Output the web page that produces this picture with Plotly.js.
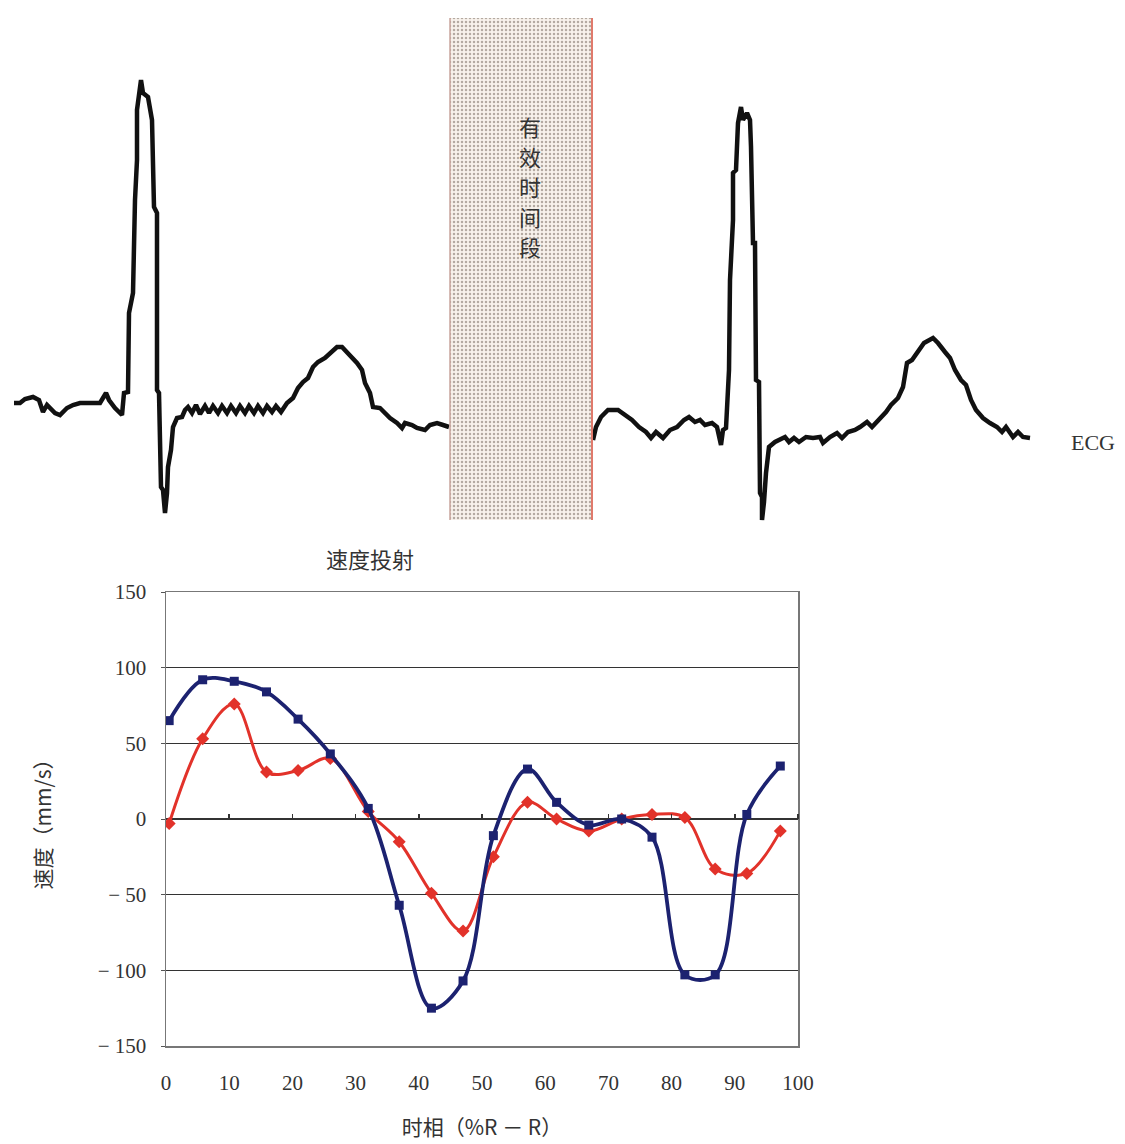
<!DOCTYPE html>
<html>
<head>
<meta charset="utf-8">
<script src="https://cdn.plot.ly/plotly-3.0.1.min.js"></script>
<style>html,body{margin:0;padding:0;background:#fff;}#chart{width:1125px;height:1144px;}</style>
</head>
<body>
<div id="chart"></div>
<script>
// ---------- ECG trace (time in px units, amplitude relative to baseline) ----------
const ecgLeftX = [14,20,25,33,39,43,47,50,55,60,67,73,80,93,100,106,109,115,122,124,128,129,133,135,137,137,141,143,148,152,153,154,157,157,159,161,163,165,167,168,171,173,177,182,185,188,
  192,196,200,205,209,213,218,222,227,231,236,240,245,249,254,258,263,267,272,276,281,
  287,293,298,303,308,313,318,325,330,337,342,347,352,357,362,365,370,373,380,385,390,397,402,405,412,417,425,430,437,443,449];
const ecgLeftY = [2,2,6,8,5,-7,0,-3,-8,-10,-3,0,2,2,2,12,5,-3,-10,12,13,92,112,205,245,295,325,312,308,285,238,198,192,15,12,-82,-85,-108,-88,-62,-45,-22,-13,-12,-5,-2,
  -8,0,-9,-1,-8,-1,-8,-1,-8,-1,-8,-1,-8,-1,-8,-1,-8,-1,-7,-1,-7,
  2,7,17,23,27,38,43,47,52,58,58,53,47,42,35,22,12,-2,-3,-8,-13,-18,-23,-18,-20,-23,-25,-20,-18,-20,-22];
const ecgRightX = [593,596,601,608,618,625,632,639,646,651,656,663,670,677,684,689,695,700,705,712,717,721,723,726,728,729,730,733,733,736,738,741,743,747,750,751,753,755,756,759,760,762,762,764,766,769,775,780,
  785,789,794,799,806,813,820,823,830,837,842,848,855,860,867,872,879,886,891,898,903,907,912,919,924,933,938,945,950,955,961,966,971,976,983,990,997,1002,1006,1013,1018,1023,1030];
const ecgRightY = [-35,-22,-12,-5,-5,-10,-15,-22,-27,-33,-27,-33,-25,-22,-15,-12,-17,-15,-20,-18,-22,-40,-25,-23,32,35,125,185,232,235,282,298,285,292,285,258,162,162,25,23,-88,-92,-115,-97,-68,-42,-37,-35,
  -32,-37,-33,-37,-32,-33,-32,-38,-32,-28,-33,-27,-25,-22,-17,-22,-15,-7,0,7,18,42,45,55,62,67,62,53,47,35,25,20,5,-5,-13,-18,-22,-27,-22,-32,-27,-32,-33];

// highlighted window ("有效时间段")
const bandLeft = 450, bandRight = 592, bandBottom = -115, bandTop = 387;
const bandChars = ['有','效','时','间','段'];
const bandCharY = [279, 249, 219, 189, 159];

// ---------- velocity projection chart ----------
const phase = [0.5,5.8,10.8,15.9,20.9,26,32,36.9,42,47,51.8,57.2,61.8,66.9,72.1,76.9,82.1,86.9,91.9,97.2];
const blueVel = [65,92,91,84,66,43,7,-57,-125,-107,-11,33,11,-4,0,-12,-103,-103,3,35];
const redVel  = [-3,53,76,31,32,40,5,-15,-49,-74,-25,11,0,-8,0,3,1,-33,-36,-8];
const xTicks = [0,10,20,30,40,50,60,70,80,90,100];
const yTicks = [150,100,50,0,-50,-100,-150];
const yTickText = ['150','100','50','0','− 50','− 100','− 150'];

const W = 1125, H = 1144;
const serif = 'Liberation Serif, Times New Roman, serif';
const cjk = 'Noto Sans CJK SC, sans-serif';

const traces = [
  {type:'bar', x:[(bandLeft+bandRight)/2], width:[bandRight-bandLeft], base:[bandBottom], y:[bandTop-bandBottom],
   xaxis:'x3', yaxis:'y3', hoverinfo:'skip',
   marker:{color:'#f7f0ea', line:{width:0},
     pattern:{shape:'.', fgcolor:'#b4aaa2', bgcolor:'#f8f2ec', size:4, solidity:0.3}}},
  {type:'scatter', mode:'lines', x:ecgLeftX, y:ecgLeftY, xaxis:'x3', yaxis:'y3',
   line:{color:'#111', width:4.5}, hoverinfo:'skip'},
  {type:'scatter', mode:'lines', x:ecgRightX, y:ecgRightY, xaxis:'x3', yaxis:'y3',
   line:{color:'#111', width:4.5}, hoverinfo:'skip'},
  {type:'scatter', mode:'lines+markers', x:phase, y:redVel, xaxis:'x', yaxis:'y',
   line:{color:'#e2322a', width:3, shape:'spline', smoothing:1},
   marker:{symbol:'diamond', size:10, color:'#e2322a'}, name:'red'},
  {type:'scatter', mode:'lines+markers', x:phase, y:blueVel, xaxis:'x', yaxis:'y',
   line:{color:'#1c2270', width:3.8, shape:'spline', smoothing:1},
   marker:{symbol:'square', size:9, color:'#1c2270'}, name:'blue'},
  {type:'scatter', mode:'lines', x:[], y:[], xaxis:'x2', yaxis:'y', hoverinfo:'skip'}
];

const yDom = [(H-1046)/H, (H-592)/H];
const zeroPos = yDom[0] + (yDom[1]-yDom[0])*0.5;

const annotations = bandChars.map((c,i) => ({
  xref:'x3', yref:'y3', x:(bandLeft+bandRight)/2+9, y:bandCharY[i], text:c, showarrow:false,
  font:{family:cjk, size:22, color:'#333'}, yanchor:'middle'
}));
annotations.push({xref:'x3', yref:'y3', x:1093, y:-37, text:'ECG', showarrow:false, font:{family:serif, size:22, color:'#333'}});

const layout = {
  width:W, height:H, margin:{l:0,r:0,t:0,b:0}, paper_bgcolor:'#fff', plot_bgcolor:'rgba(0,0,0,0)',
  showlegend:false,
  title:{text:'速度投射', x:370/W, xanchor:'center', y:1-560/H, yanchor:'middle', font:{family:cjk, size:22, color:'#333'}},
  xaxis:{domain:[166/W, 798/W], range:[0,100], tickvals:xTicks, ticks:'', showgrid:false, zeroline:false,
    showline:true, mirror:true, linecolor:'#777', linewidth:1.5, ticklabelstandoff:17,
    tickfont:{family:serif, size:21, color:'#333'},
    title:{text:'时相（%R － R）', font:{family:cjk, size:21, color:'#333'}, standoff:26}},
  xaxis2:{overlaying:'x', anchor:'free', position:zeroPos, side:'top', range:[0,100],
    tickvals:xTicks.slice(1), ticks:'outside', ticklen:5, tickwidth:1.5, tickcolor:'#333',
    showticklabels:false, showgrid:false, zeroline:false, showline:false},
  yaxis:{domain:yDom, range:[-150,150], tickvals:yTicks, ticktext:yTickText, ticks:'outside', ticklen:4, tickcolor:'#555',
    showgrid:true, gridcolor:'#333', gridwidth:1.5, zeroline:true, zerolinecolor:'#333', zerolinewidth:1.5,
    showline:true, mirror:true, linecolor:'#777', linewidth:1.5, ticklabelstandoff:10,
    tickfont:{family:serif, size:21, color:'#333'},
    title:{text:'速度（mm/s）', font:{family:cjk, size:21, color:'#333'}, standoff:40}},
  xaxis3:{domain:[0,1], range:[0,W], visible:false, fixedrange:true},
  yaxis3:{domain:[(H-530)/H, 1], range:[-125,405], visible:false, fixedrange:true},
  shapes:[
    {type:'line', xref:'x3', yref:'y3', x0:bandLeft, x1:bandLeft, y0:bandBottom, y1:bandTop, line:{color:'#c9a49c', width:1.5}},
    {type:'line', xref:'x3', yref:'y3', x0:bandRight, x1:bandRight, y0:bandBottom, y1:bandTop, line:{color:'#e07a6c', width:2}}
  ],
  annotations:annotations
};

Plotly.newPlot('chart', traces, layout, {displayModeBar:false, staticPlot:true});
</script>
</body>
</html>
